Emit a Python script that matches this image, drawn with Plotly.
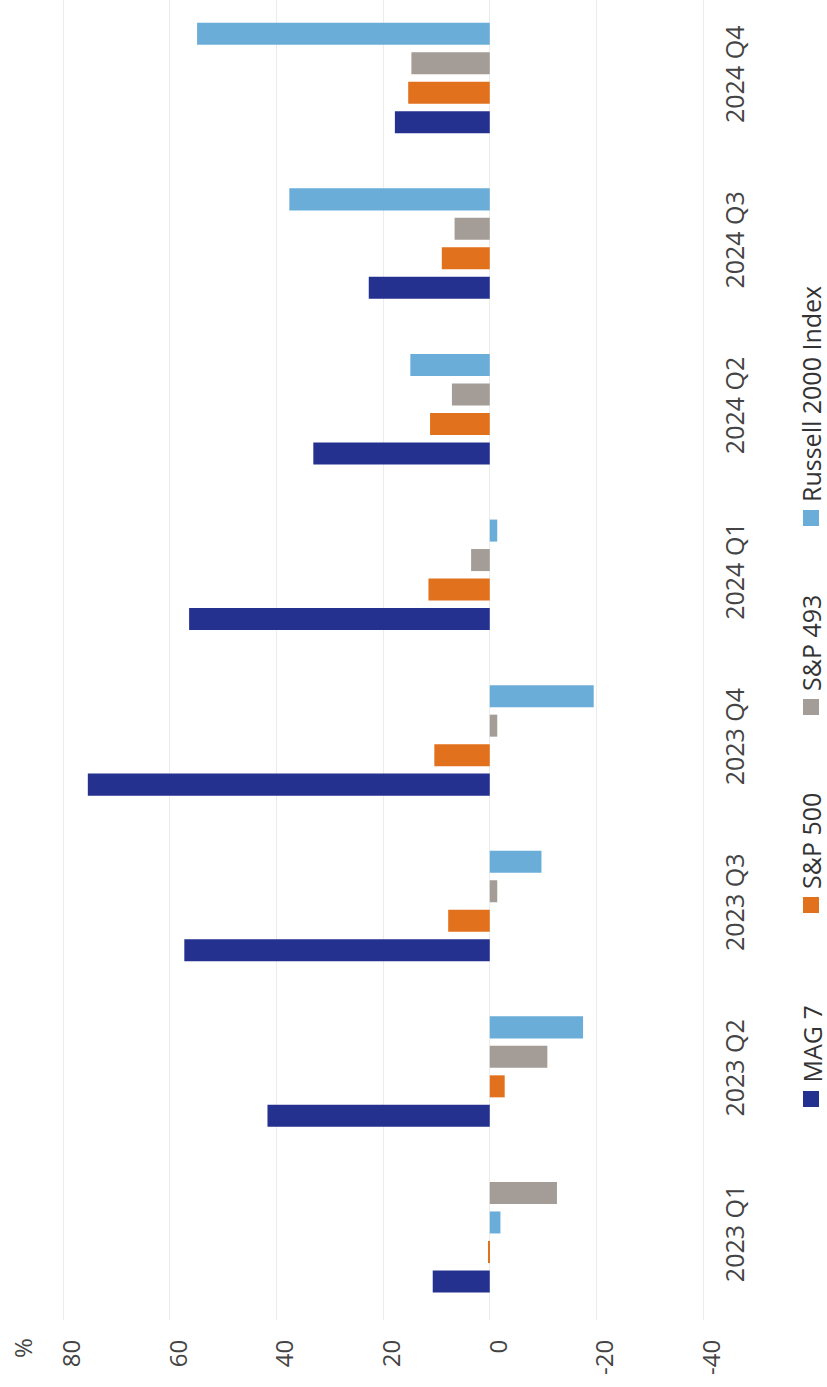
import plotly.graph_objects as go

# ---------------- data ----------------
categories = ["2023 Q1", "2023 Q2", "2023 Q3", "2023 Q4",
              "2024 Q1", "2024 Q2", "2024 Q3", "2024 Q4"]
series_names = ["MAG 7", "S&P 500", "S&P 493", "Russell 2000 Index"]
mag7 = [10.7, 41.7, 57.3, 75.4, 56.4, 33.1, 22.7, 17.8]
sp500 = [0.3, -2.8, 7.8, 10.4, 11.5, 11.2, 9.0, 15.3]
sp493 = [-12.6, -10.8, -1.4, -1.4, 3.5, 7.1, 6.6, 14.7]
russell = [-2.0, -17.5, -9.7, -19.5, -1.4, 14.9, 37.6, 54.9]
series_values = [mag7, sp500, sp493, russell]
colors = ["#24318F", "#E2711D", "#A39C97", "#6AADD9"]
x_tick_vals = [80, 60, 40, 20, 0, -20, -40]
x_tick_text = ["80", "60", "40", "20", "0", "-20", "-40"]
unit_label = "%"
# in the source chart the first quarter shows the S&P 493 bar above the Russell bar
slot_swaps = {"2023 Q1": {"S&P 493": 3, "Russell 2000 Index": 2}}

# ---------------- layout geometry ----------------
W, H = 827, 1387
ML, MR, MT, MB = 40, 112, 0, 67
PW, PH = W - ML - MR, H - MT - MB
PITCH, BARW = 0.178, 0.133
FONT = "Open Sans"
TXT = "#444444"

fig = go.Figure()
for i, (name, vals, col) in enumerate(zip(series_names, series_values, colors)):
    offsets = []
    for cat in categories:
        slot = slot_swaps.get(cat, {}).get(name, i)
        offsets.append((slot - 1.5) * PITCH - BARW / 2)
    fig.add_trace(go.Bar(
        y=categories, x=vals, orientation="h", name=name,
        marker=dict(color=col, line=dict(width=0)),
        width=BARW, offset=offsets, showlegend=False,
    ))

ncat_visible = PH / 165.6
fig.update_layout(
    width=W, height=H,
    margin=dict(l=ML, r=MR, t=MT, b=MB),
    paper_bgcolor="white", plot_bgcolor="white",
    barmode="overlay",
    font=dict(family=FONT, color=TXT, size=24),
    xaxis=dict(
        range=[84.37, -42.25], tickvals=x_tick_vals, ticktext=x_tick_text,
        tickangle=-90, showgrid=True, gridcolor="#ECECEC", gridwidth=1,
        zeroline=False, showline=False, ticks="",
        tickfont=dict(size=24, color=TXT, family=FONT),
        ticklabelstandoff=14, ticklabelshift=-9,
    ),
    yaxis=dict(
        type="category", categoryorder="array", categoryarray=categories,
        range=[-0.5, -0.5 + ncat_visible], side="right",
        tickangle=-90, showgrid=False, zeroline=False, showline=False,
        ticks="", tickfont=dict(size=25, color=TXT, family=FONT),
        ticklabelstandoff=3,
    ),
)

def px_x(px):
    return (px - ML) / PW

def px_y(py):
    return (H - MB - py) / PH

# unit label
fig.add_annotation(x=px_x(22), y=px_y(1336), xref="paper", yref="paper",
                   text=unit_label, textangle=-90, showarrow=False,
                   xanchor="center", yanchor="top",
                   font=dict(size=24, color=TXT, family=FONT))

# legend (rotated, drawn as shapes + annotations)
legend_square_centers = [1099, 905, 707, 518]
SQ = 16
for name, col, cy in zip(series_names, colors, legend_square_centers):
    fig.add_shape(type="rect", xref="paper", yref="paper",
                  x0=px_x(803), x1=px_x(803 + SQ),
                  y0=px_y(cy + SQ / 2), y1=px_y(cy - SQ / 2),
                  fillcolor=col, line=dict(width=0))
    fig.add_annotation(x=px_x(811), y=px_y(cy - SQ / 2 - 6),
                       xref="paper", yref="paper", text=name,
                       textangle=-90, showarrow=False,
                       xanchor="center", yanchor="bottom",
                       font=dict(size=25, color="#333333", family=FONT))

fig.write_html("out.html")
